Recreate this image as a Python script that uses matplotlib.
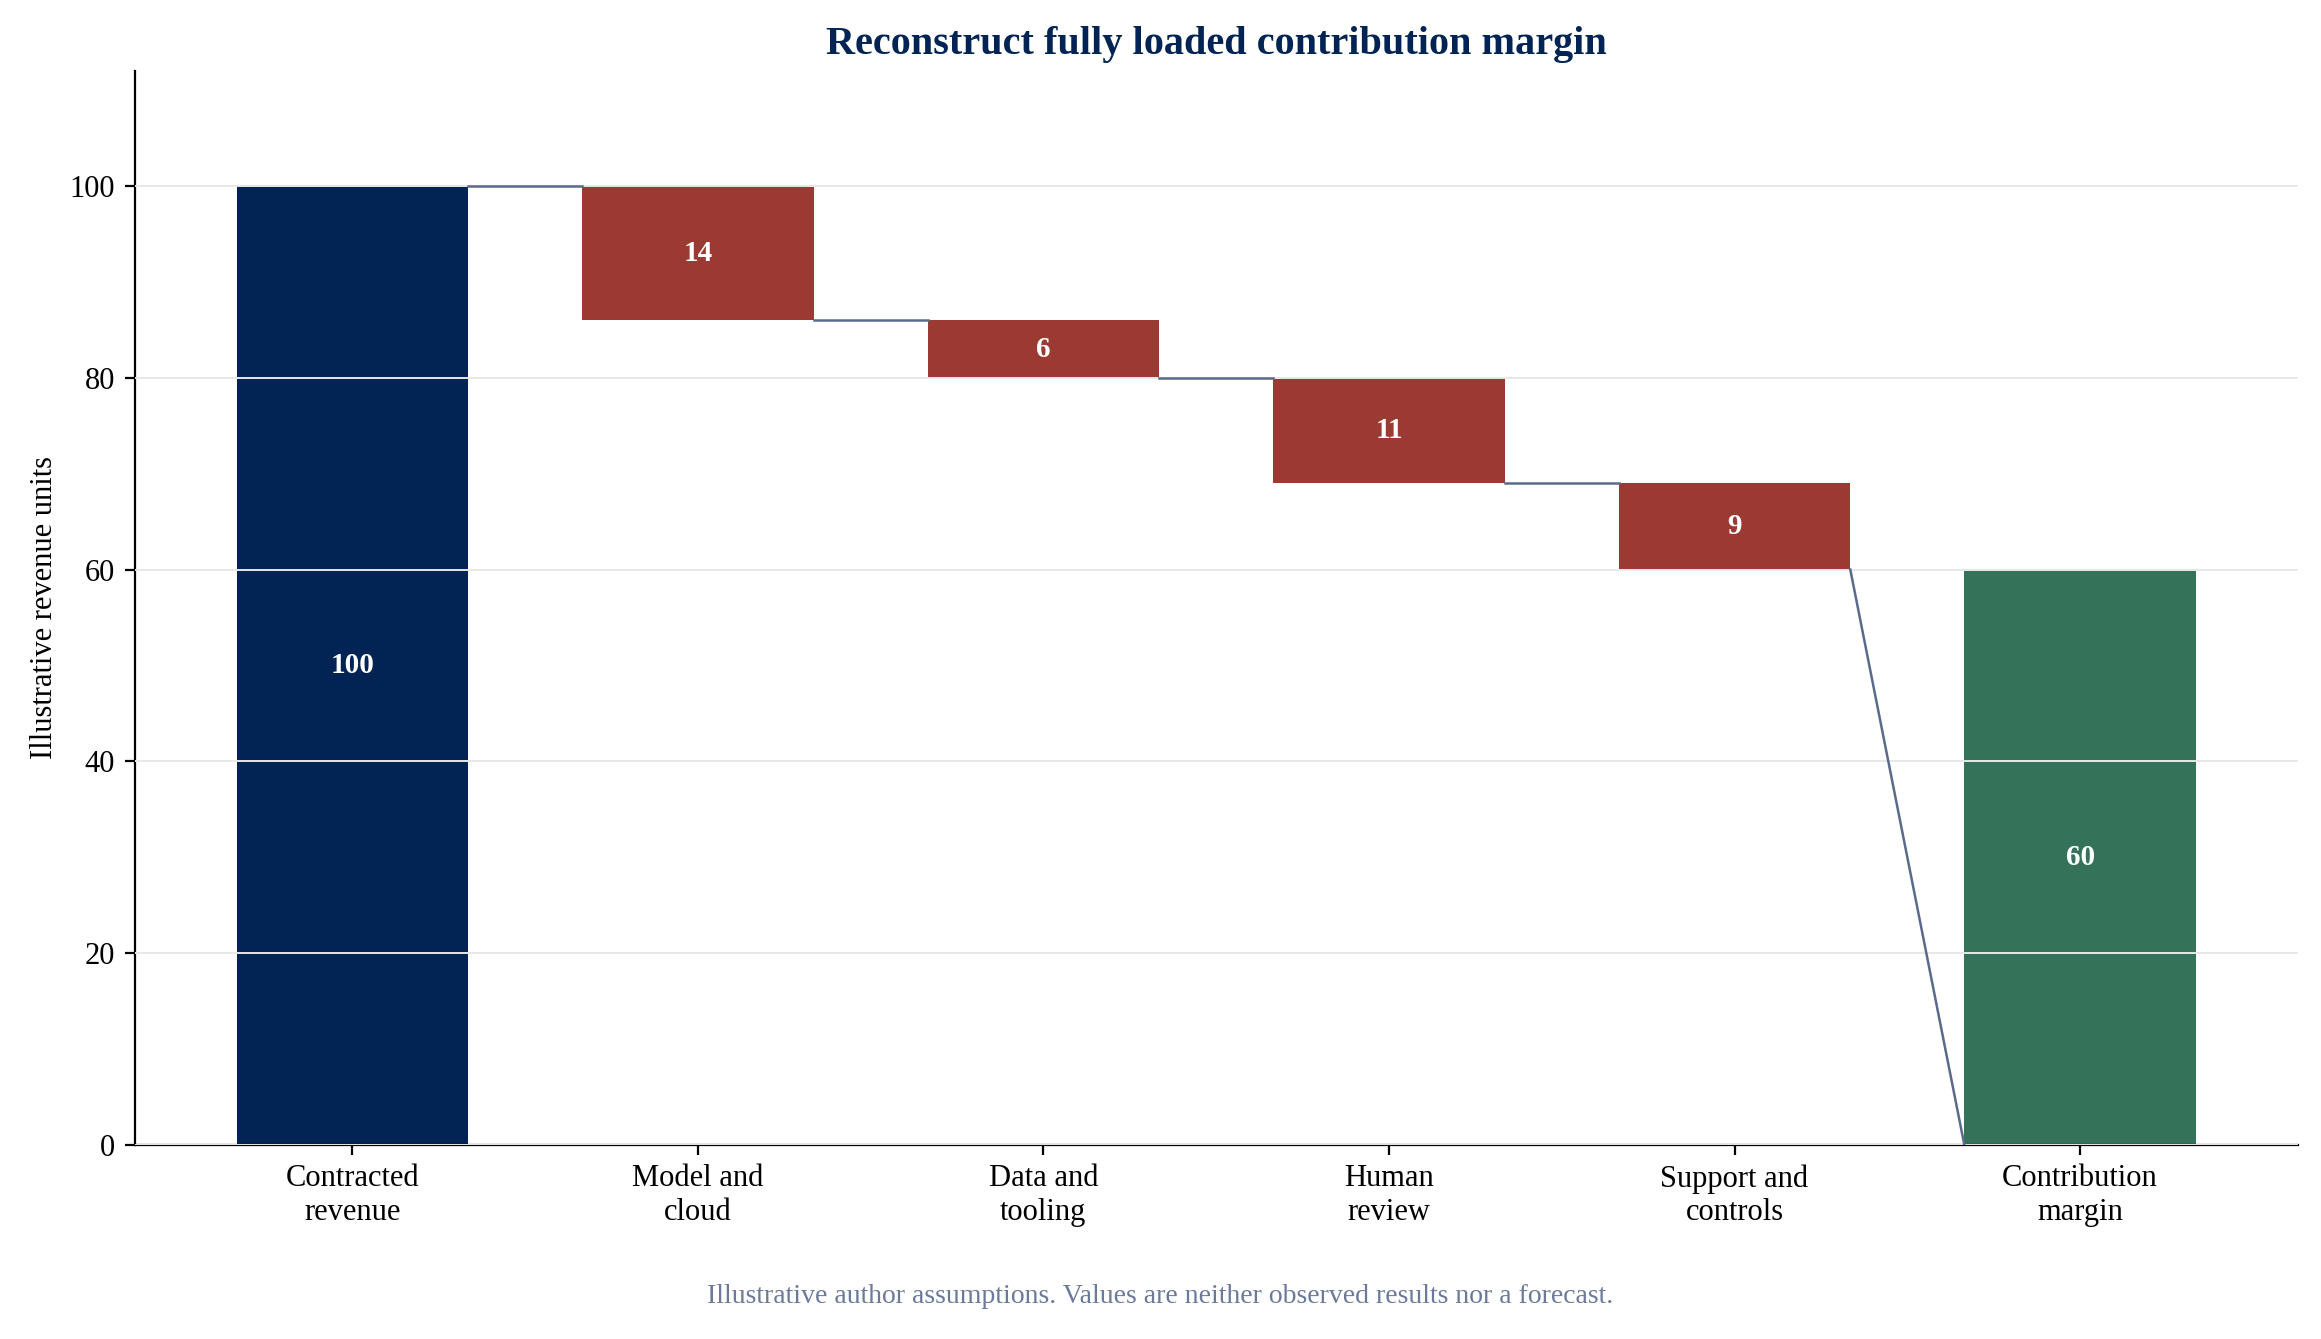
import matplotlib
matplotlib.use("Agg")
import matplotlib.pyplot as plt

plt.rcParams['font.family'] = ['Liberation Serif', 'DejaVu Serif']

categories = ["Contracted\nrevenue", "Model and\ncloud", "Data and\ntooling", "Human\nreview", "Support and\ncontrols", "Contribution\nmargin"]
values = [100, -14, -6, -11, -9, 60]
kinds = ["total", "delta", "delta", "delta", "delta", "total"]

NAVY = "#022454"; RED = "#9b3a33"; GREEN = "#34735a"; LINE = "#5a6a8a"
W = 0.67

fig = plt.figure(figsize=(2321/200, 1339/200), dpi=200)
ax = fig.add_axes([0.058, 0.145, 0.932, 0.802])

bottoms, tops = [], []
level = 0
for i, (v, k) in enumerate(zip(values, kinds)):
    if k == "total":
        b, t = 0, v
        level = v
        col = NAVY if i == 0 else GREEN
    else:
        b, t = level + v, level
        level = level + v
        col = RED
    bottoms.append(b); tops.append(t)
    ax.bar(i, t - b, bottom=b, width=W, color=col, zorder=2)
    ax.text(i, (b + t) / 2, f"{abs(v)}", ha="center", va="center", color="white",
            fontsize=10.5, fontweight="bold", zorder=4)

# connectors
level = values[0]
for i in range(len(values) - 1):
    if kinds[i] == "delta":
        level = bottoms[i]
    nxt = tops[i + 1] if kinds[i + 1] == "delta" else bottoms[i + 1]
    ax.plot([i + W / 2, i + 1 - W / 2], [level, nxt], color=LINE, lw=0.9, zorder=3)

ax.set_xlim(-0.63, len(values) - 1 + 0.63)
ax.set_ylim(0, 112)
ax.set_yticks([0, 20, 40, 60, 80, 100])
ax.set_xticks(range(len(categories)))
ax.set_xticklabels(categories, fontsize=11)
ax.tick_params(axis="y", labelsize=11)
ax.yaxis.grid(True, color="#e8e8e8", lw=0.7, zorder=2.5)
ax.set_axisbelow(False)
for s in ("top", "right"):
    ax.spines[s].set_visible(False)
ax.set_ylabel("Illustrative revenue units", fontsize=11)
ax.set_title("Reconstruct fully loaded contribution margin", fontsize=14.5,
             fontweight="bold", color=NAVY, pad=6)
fig.text(0.5, 0.027, "Illustrative author assumptions. Values are neither observed results nor a forecast.",
         ha="center", fontsize=10, color="#6b7a99")

fig.savefig("out.png", dpi=200)
